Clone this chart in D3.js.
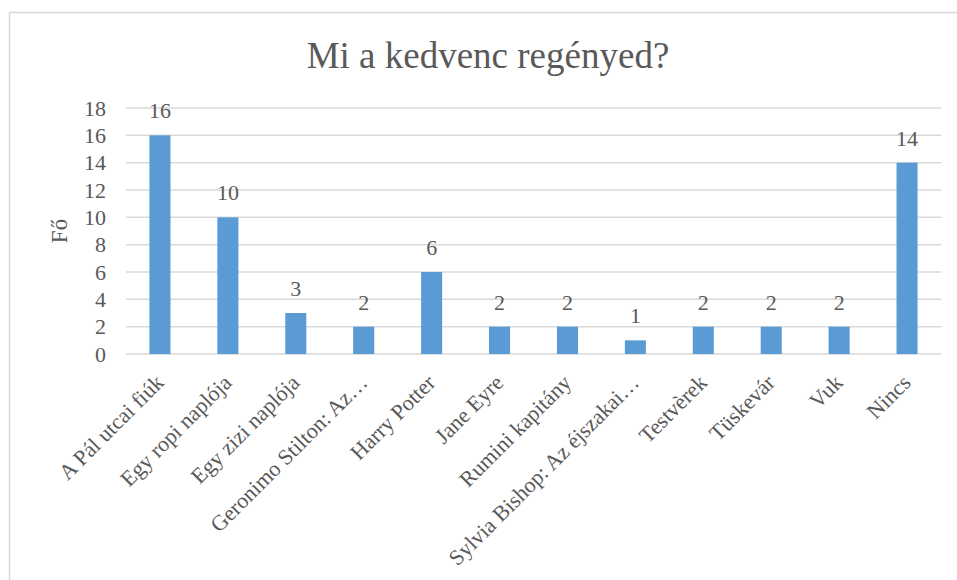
<!DOCTYPE html>
<html>
<head>
<meta charset="utf-8">
<title>Mi a kedvenc regényed?</title>
<script src="https://d3js.org/d3.v7.min.js"></script>
<style>
  body { margin: 0; background: #fff; }
  text { font-family: "Liberation Serif", "Times New Roman", serif; fill: #595959; }
</style>
</head>
<body>
<div id="chart"></div>
<script>
// data
var categories = ["A Pál utcai fiúk", "Egy ropi naplója", "Egy zizi naplója", "Geronimo Stilton: Az…",
    "Harry Potter", "Jane Eyre", "Rumini kapitány", "Sylvia Bishop: Az éjszakai…",
    "Testvèrek", "Tüskevár", "Vuk", "Nincs"];
var values = [16, 10, 3, 2, 6, 2, 2, 1, 2, 2, 2, 14];
var yTicks = [0, 2, 4, 6, 8, 10, 12, 14, 16, 18];
var title = "Mi a kedvenc regényed?";
var yTitle = "Fő";

var width = 957, height = 580;
var plot = { left: 126, right: 941, top: 108, bottom: 354 };

var svg = d3.select("#chart").append("svg")
    .attr("width", width)
    .attr("height", height);

// chart border (only top and left are visible)
svg.append("rect")
    .attr("x", 9.5).attr("y", 12.5)
    .attr("width", 1000).attr("height", 700)
    .attr("fill", "none")
    .attr("stroke", "#d9d9d9")
    .attr("stroke-width", 1.5);

var x = d3.scaleBand()
    .domain(categories)
    .range([plot.left, plot.right])
    .paddingInner(0.69)
    .paddingOuter(0.345);

var y = d3.scaleLinear()
    .domain([0, 18])
    .range([plot.bottom, plot.top]);

// gridlines
svg.append("g")
    .selectAll("line")
    .data(yTicks)
    .enter()
    .append("line")
    .attr("x1", plot.left).attr("x2", plot.right)
    .attr("y1", function(d) { return y(d); })
    .attr("y2", function(d) { return y(d); })
    .attr("stroke", "#d9d9d9")
    .attr("stroke-width", 1.5);

// y axis labels
var yAxis = svg.append("g")
    .attr("transform", "translate(" + 106 + ",0)")
    .call(d3.axisLeft(y).tickValues(yTicks).tickSize(0).tickPadding(0));
yAxis.select(".domain").remove();
yAxis.selectAll("text")
    .style("font-size", "22px")
    .attr("fill", "#595959")
    .style("font-family", "Liberation Serif, Times New Roman, serif");

// bars
svg.append("g")
    .selectAll("rect")
    .data(values)
    .enter()
    .append("rect")
    .attr("x", function(d, i) { return x(categories[i]); })
    .attr("y", function(d) { return y(d); })
    .attr("width", x.bandwidth())
    .attr("height", function(d) { return y(0) - y(d); })
    .attr("fill", "#5b9bd5");

// data labels
svg.append("g")
    .selectAll("text")
    .data(values)
    .enter()
    .append("text")
    .attr("x", function(d, i) { return x(categories[i]) + x.bandwidth() / 2; })
    .attr("y", function(d) { return y(d) - 17; })
    .attr("text-anchor", "middle")
    .style("font-size", "22px")
    .text(function(d) { return d; });

// category labels, rotated
var xAxis = svg.append("g")
    .attr("transform", "translate(0," + plot.bottom + ")")
    .call(d3.axisBottom(x).tickSize(0).tickPadding(0));
xAxis.select(".domain").remove();
xAxis.selectAll("text")
    .attr("y", 0).attr("dy", 0)
    .attr("transform", "translate(5,30) rotate(-45)")
    .attr("text-anchor", "end")
    .attr("fill", "#595959")
    .style("font-size", "22px")
    .style("font-family", "Liberation Serif, Times New Roman, serif");

// title
svg.append("text")
    .attr("x", 488).attr("y", 68)
    .attr("text-anchor", "middle")
    .style("font-size", "37px")
    .text(title);

// y axis title
svg.append("text")
    .attr("transform", "translate(67," + (plot.top + plot.bottom) / 2 + ") rotate(-90)")
    .attr("text-anchor", "middle")
    .style("font-size", "23px")
    .text(yTitle);
</script>
</body>
</html>
